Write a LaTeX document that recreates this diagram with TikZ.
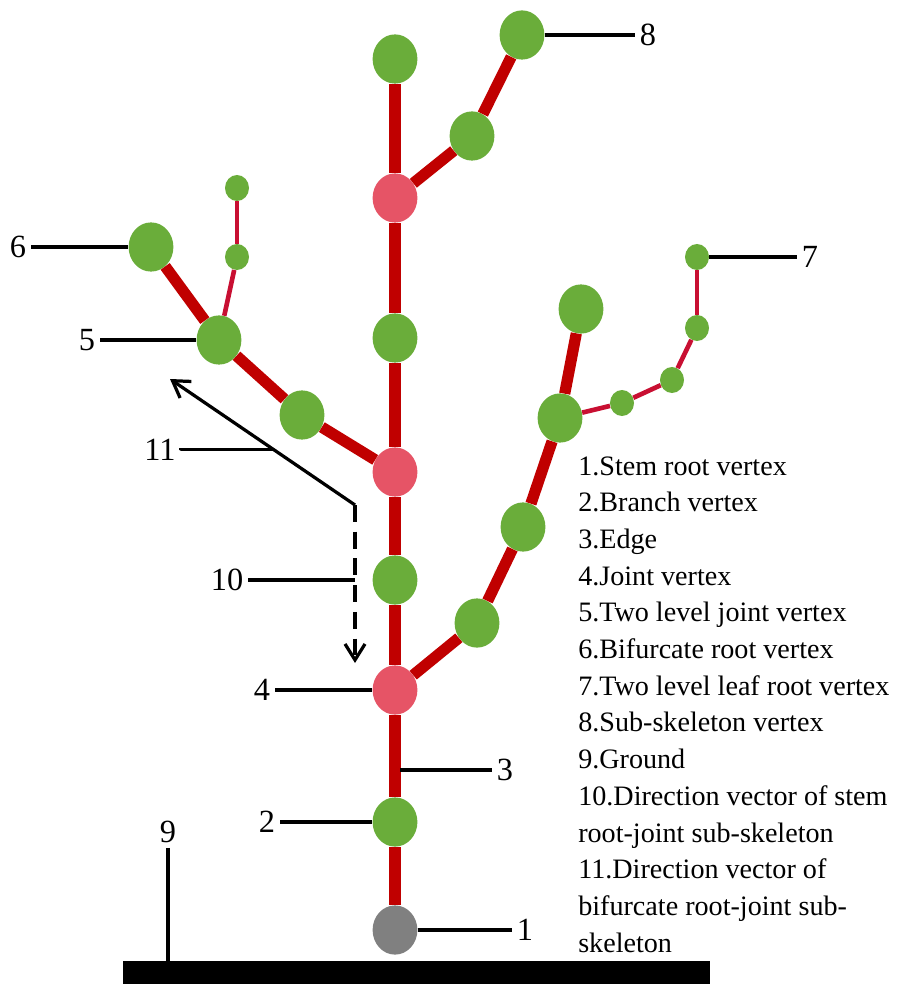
\documentclass[tikz,border=0pt]{standalone}
\usepackage{fontspec}
\setmainfont{Liberation Serif}
\usepackage{tikz}
\usetikzlibrary{positioning, calc, arrows.meta, shapes.geometric}
\definecolor{leafgreen}{RGB}{106,173,58}
\definecolor{jointpink}{RGB}{230,84,102}
\definecolor{limbred}{RGB}{192,0,0}
\definecolor{twigred}{RGB}{200,15,50}
\tikzset{
	vert/.append style={
		ellipse,
		fill=leafgreen,
		draw=none,
		inner sep=0mm,
		minimum width=11.2mm,
		minimum height=12.3mm
	},
	jvert/.append style={
		vert,
		fill=jointpink
	},
	rvert/.append style={
		vert,
		fill=gray
	},
	svert/.append style={
		vert,
		minimum width=6mm,
		minimum height=6.5mm
	},
	limb/.append style={
		draw=limbred,
		line width=8pt
	},
	twig/.append style={
		draw=twigred,
		line width=3.3pt
	},
	lead/.append style={
		draw=black,
		line width=2.5pt
	},
	vec/.append style={
		draw=black,
		line width=2.3pt,
		-{Straight Barb[length=4mm, width=5mm]}
	},
	num/.append style={
		font={\fontsize{23}{26}\selectfont}
	},
	legend/.append style={
		anchor=base west,
		inner sep=0mm,
		font={\fontsize{20}{26}\selectfont}
	}
}

\begin{document}
\begin{tikzpicture}[x=0.025cm, y=-0.025cm]
\useasboundingbox (0,0) rectangle (919,997);

% stem
\foreach \nm/\yy/\st in {r0/930/rvert, s1/822/vert, j4/690/jvert, s3/580/vert, p5/472/jvert, s6/338/vert, p7/198/jvert, s8/59/vert} {
	\node(\nm)[\st] at (395,\yy) {};
};
\foreach \aa/\bb in {r0/s1, s1/j4, j4/s3, s3/p5, p5/s6, s6/p7, p7/s8} {
	\draw[limb] (\aa) -- (\bb);
};

% left branch
\node(a1)[vert] at (302,415) {};
\node(a2)[vert] at (219,340) {};
\node(a3)[vert] at (151,247) {};
\node(a4)[svert] at (237,257) {};
\node(a5)[svert] at (237,188) {};
\draw[limb] (p5) -- (a1);
\draw[limb] (a1) -- (a2);
\draw[limb] (a2) -- (a3);
\draw[twig] (a2) -- (a4);
\draw[twig] (a4) -- (a5);

% top branch
\node(b1)[vert] at (472,136) {};
\node(b2)[vert] at (522,35) {};
\draw[limb] (p7) -- (b1);
\draw[limb] (b1) -- (b2);

% right branch
\node(c1)[vert] at (477,623) {};
\node(c2)[vert] at (523,527) {};
\node(c3)[vert] at (560,418) {};
\node(c4)[vert] at (581,309) {};
\node(d1)[svert] at (622,403) {};
\node(d2)[svert] at (672,380) {};
\node(d3)[svert] at (697,328) {};
\node(d4)[svert] at (697,257) {};
\draw[limb] (j4) -- (c1);
\draw[limb] (c1) -- (c2);
\draw[limb] (c2) -- (c3);
\draw[limb] (c3) -- (c4);
\draw[twig] (c3) -- (d1);
\draw[twig] (d1) -- (d2);
\draw[twig] (d2) -- (d3);
\draw[twig] (d3) -- (d4);

% ground
\node(ground)[fill=black, inner sep=0mm, minimum width=14.675cm, minimum height=5.75mm] at (416.5,972.5) {};

% direction vectors
\coordinate(c11) at (355,505);
\coordinate(t11) at (170,379);
\coordinate(t10) at (355,663);
\draw[vec] (c11) -- (t11);
\draw[vec, dash pattern=on 12pt off 7pt] (c11) -- (t10);
\coordinate(e11) at ($(c11)!0.44!(t11)$);
\coordinate(e10) at (355,580);
\coordinate(e3) at (400,770);

% numbers
\node(n1)[num] at (525,930) {1};
\node(n2)[num] at (267,822) {2};
\node(n3)[num] at (505,770) {3};
\node(n4)[num] at (262,690) {4};
\node(n5)[num] at (87,340) {5};
\node(n6)[num] at (18,247) {6};
\node(n7)[num] at (810,257) {7};
\node(n8)[num] at (648,35) {8};
\node(n9)[num] at (168,832) {9};
\node(n10)[num] at (227,580) {10};
\node(n11)[num] at (160,450) {11};

\draw[lead] (r0) -- (n1);
\draw[lead] (n2) -- (s1);
\draw[lead] (e3) -- (n3);
\draw[lead] (n4) -- (j4);
\draw[lead] (n5) -- (a2);
\draw[lead] (n6) -- (a3);
\draw[lead] (d4) -- (n7);
\draw[lead] (b2) -- (n8);
\draw[lead] (n9) -- (n9 |- ground.north);
\draw[lead] (n10) -- (e10);
\draw[lead] (n11) -- (e11 -| n11.east) -- (e11);

% legend
\foreach \txt [count=\ii] in {1.Stem root vertex, 2.Branch vertex, 3.Edge, 4.Joint vertex, 5.Two level joint vertex, 6.Bifurcate root vertex, 7.Two level leaf root vertex, 8.Sub-skeleton vertex, 9.Ground, 10.Direction vector of stem, root-joint sub-skeleton, 11.Direction vector of, bifurcate root-joint sub-, skeleton} {
	\pgfmathsetmacro\yy{475 + (\ii - 1) * 36.7}
	\node(leg\ii)[legend] at (578,\yy) {\txt};
};

\end{tikzpicture}
\end{document}
